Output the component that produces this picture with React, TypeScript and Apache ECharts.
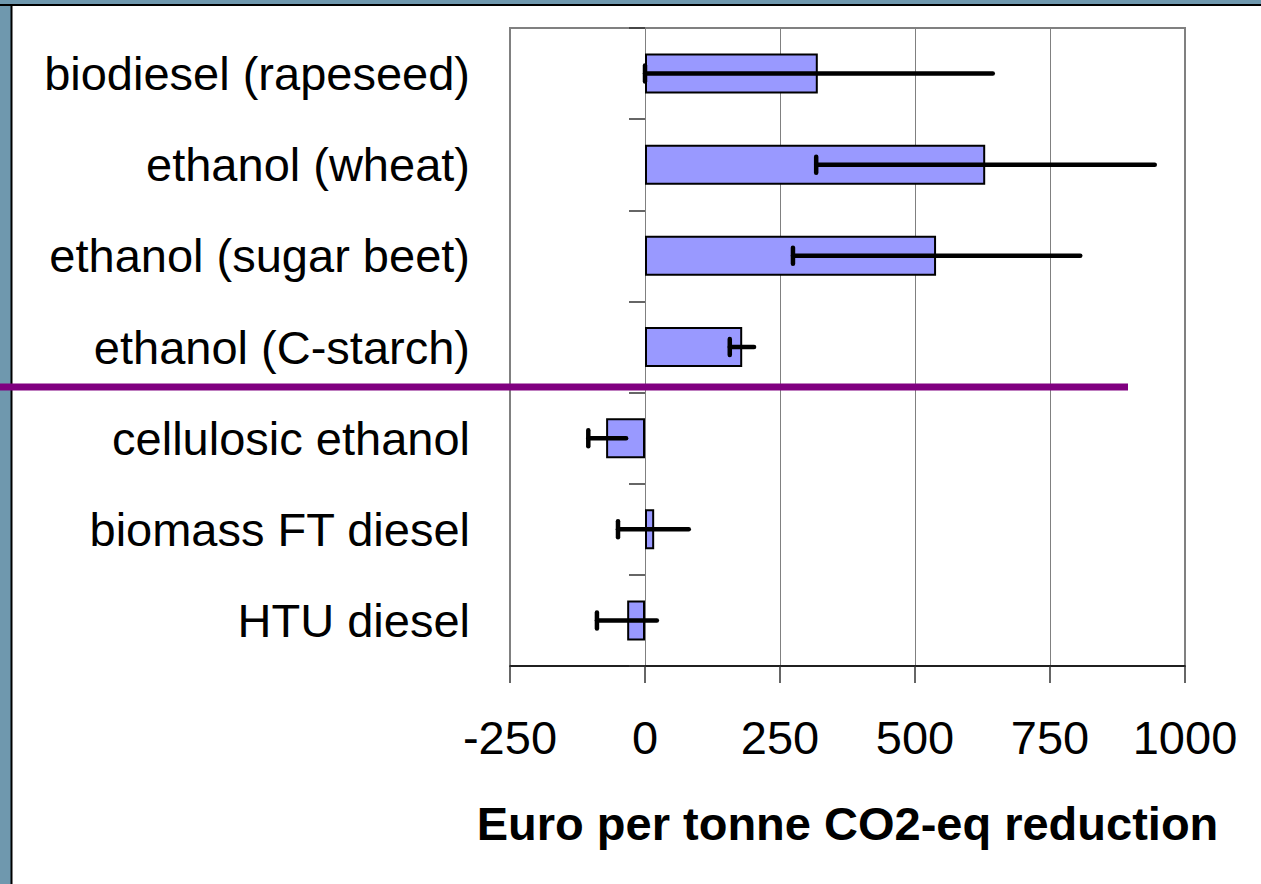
import React, { useEffect, useRef } from "react";
import * as echarts from "echarts";

const categories = [
  "biodiesel (rapeseed)",
  "ethanol (wheat)",
  "ethanol (sugar beet)",
  "ethanol (C-starch)",
  "cellulosic ethanol",
  "biomass FT diesel",
  "HTU diesel",
];
const costValues = [320, 630, 539, 180, -72, 17, -33];
const errorLow = [0, 317, 274, 157, -105, -50, -89];
const errorHigh = [644, 944, 806, 202, -35, 81, 22];
const xTicks = { min: -250, max: 1000, interval: 250 };
const axisTitle = "Euro per tonne CO2-eq reduction";

const FONT = "'Liberation Sans', Arial, sans-serif";

export default function App() {
  const ref = useRef<HTMLDivElement>(null);
  useEffect(() => {
    if (!ref.current) return;
    const chart = echarts.init(ref.current, null, { renderer: "svg" });
    const errData = categories.map((_, i) => [i, errorLow[i], errorHigh[i]]);
    chart.setOption({
      animation: false,
      backgroundColor: "#ffffff",
      textStyle: { fontFamily: FONT },
      grid: {
        left: 510,
        right: 76,
        top: 28,
        bottom: 218,
        show: true,
        borderColor: "#808080",
        borderWidth: 2,
        backgroundColor: "transparent",
      },
      xAxis: {
        type: "value",
        min: xTicks.min,
        max: xTicks.max,
        interval: xTicks.interval,
        axisLine: { show: true, onZero: false, lineStyle: { color: "#000", width: 1.5 } },
        axisTick: { show: true, inside: false, length: 17, lineStyle: { color: "#333", width: 1.5 } },
        splitLine: { show: true, lineStyle: { color: "#808080", width: 1 } },
        axisLabel: {
          fontSize: 47,
          color: "#000",
          fontFamily: FONT,
          margin: 48,
          formatter: (v: number) => String(v),
        },
        name: axisTitle,
        nameLocation: "middle",
        nameGap: 134,
        nameTextStyle: { fontSize: 47, fontWeight: "bold", color: "#000", fontFamily: FONT },
      },
      yAxis: [
        {
          type: "category",
          data: categories,
          inverse: true,
          position: "left",
          axisLine: { show: true, onZero: false, lineStyle: { color: "#808080", width: 2 } },
          axisTick: { show: false },
          axisLabel: { fontSize: 47, color: "#000", fontFamily: FONT, margin: 40 },
        },
        {
          type: "category",
          data: categories,
          inverse: true,
          position: "left",
          axisLine: { show: true, onZero: true, lineStyle: { color: "#808080", width: 1 } },
          axisTick: { show: true, inside: false, length: 16, lineStyle: { color: "#333", width: 1.5 } },
          axisLabel: { show: false },
        },
      ],
      series: [
        {
          type: "bar",
          yAxisIndex: 0,
          data: costValues,
          barWidth: 40,
          itemStyle: { color: "#9999ff", borderColor: "#000", borderWidth: 2 },
          z: 3,
        },
        {
          type: "custom",
          yAxisIndex: 0,
          data: errData,
          encode: { y: 0, x: [1, 2] },
          z: 4,
          renderItem: (params: any, api: any) => {
            const cat = api.value(0);
            const lo = api.coord([api.value(1), cat]);
            const hi = api.coord([api.value(2), cat]);
            const capH = 8;
            return {
              type: "group",
              children: [
                {
                  type: "line",
                  shape: { x1: lo[0], y1: lo[1], x2: hi[0], y2: hi[1] },
                  style: { stroke: "#000", lineWidth: 4.5, lineCap: "round" },
                },
                {
                  type: "line",
                  shape: { x1: lo[0], y1: lo[1] - capH, x2: lo[0], y2: lo[1] + capH },
                  style: { stroke: "#000", lineWidth: 4.5, lineCap: "round" },
                },
              ],
            };
          },
        },
      ],
      graphic: [
        { type: "rect", shape: { x: 0, y: 0, width: 1261, height: 5 }, style: { fill: "#6f98ae" }, z: 10 },
        { type: "rect", shape: { x: 0, y: 0, width: 11, height: 884 }, style: { fill: "#6f98ae" }, z: 10 },
        { type: "line", shape: { x1: 0, y1: 5, x2: 1261, y2: 5 }, style: { stroke: "#000", lineWidth: 2 }, z: 11 },
        { type: "line", shape: { x1: 11.5, y1: 5, x2: 11.5, y2: 884 }, style: { stroke: "#000", lineWidth: 2 }, z: 11 },
        { type: "line", shape: { x1: 0, y1: 387, x2: 1128, y2: 387 }, style: { stroke: "#800080", lineWidth: 7 }, z: 12 },
      ],
    });
    return () => chart.dispose();
  }, []);
  return (
    <div
      ref={ref}
      style={{ position: "fixed", left: 0, top: 0, width: 1261, height: 884 }}
    />
  );
}
